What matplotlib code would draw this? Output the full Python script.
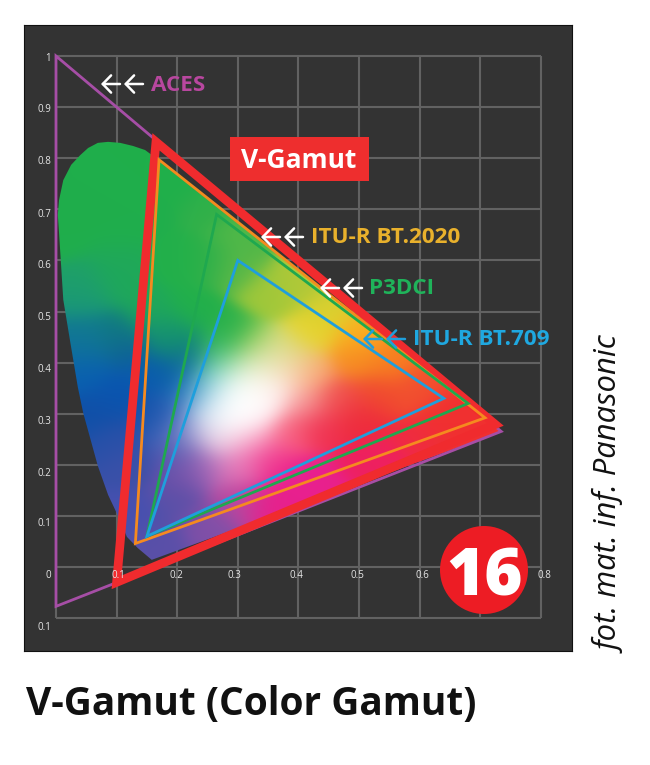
import numpy as np
import matplotlib
matplotlib.use("Agg")
import matplotlib.pyplot as plt
from matplotlib.colors import to_rgb
from matplotlib.patches import Polygon

plt.rcParams['font.family'] = ['Open Sans', 'DejaVu Sans']

# gamut triangles, CIE xy
aces_x = [0.0, 0.7347, 0.0]
aces_y = [1.0, 0.2653, -0.077]
vgamut_x = [0.165, 0.725, 0.100]
vgamut_y = [0.832, 0.279, -0.030]
bt2020_x = [0.170, 0.708, 0.131]
bt2020_y = [0.797, 0.292, 0.046]
p3_x = [0.265, 0.680, 0.150]
p3_y = [0.690, 0.320, 0.060]
bt709_x = [0.300, 0.640, 0.150]
bt709_y = [0.600, 0.330, 0.060]

# horseshoe outline
locus_x = [0.158, 0.135, 0.117, 0.100, 0.086, 0.069, 0.045, 0.036, 0.023, 0.012, 0.005, 0.003,
           0.005, 0.012, 0.025, 0.040, 0.053, 0.069, 0.086, 0.106, 0.127, 0.147, 0.163, 0.735]
locus_y = [0.014, 0.037, 0.059, 0.106, 0.141, 0.198, 0.301, 0.352, 0.444, 0.523, 0.654, 0.689,
           0.718, 0.757, 0.787, 0.806, 0.820, 0.830, 0.832, 0.830, 0.824, 0.816, 0.802, 0.265]

# colour samples inside the horseshoe: (x, y, colour)
green_x = [0.08, 0.05, 0.15, 0.20, 0.22, 0.15, 0.02, 0.10, 0.10, 0.20, 0.25, 0.282, 0.27, 0.25]
green_y = [0.78, 0.70, 0.70, 0.60, 0.50, 0.50, 0.65, 0.65, 0.60, 0.75, 0.70, 0.458, 0.419, 0.60]
green_c = ['#1fae4b', '#1fae4b', '#20ae4c', '#22b04a', '#22b04a', '#1fa85a', '#20ae4c', '#20ae4c',
           '#1fa85a', '#20b04a', '#30b04a', '#28b04a', '#30b860', '#2cb04a']

blue_x = [0.045, 0.10, 0.045, 0.045, 0.10, 0.18, 0.045, 0.12, 0.05, 0.155, 0.10, 0.16, 0.193, 0.216,
          0.216, 0.193, 0.07, 0.10, 0.13, 0.13, 0.17, 0.19, 0.18, 0.20]
blue_y = [0.555, 0.555, 0.522, 0.457, 0.457, 0.457, 0.425, 0.425, 0.38, 0.38, 0.337, 0.30, 0.372, 0.34,
          0.405, 0.438, 0.30, 0.25, 0.20, 0.10, 0.05, 0.30, 0.26, 0.22]
blue_c = ['#1fa068', '#1fa85a', '#1a9878', '#127a90', '#107a80', '#1a9a70', '#0f6fa0', '#0f6098',
          '#0a60b0', '#0a5cb0', '#0a55b0', '#1050a8', '#0a5ca8', '#1060b0', '#107090', '#108a70',
          '#1050a8', '#2a50a8', '#3a50a8', '#4550b0', '#5a50a8', '#3060b8', '#2f5cb4', '#5858b0']

warm_x = [0.298, 0.353, 0.424, 0.497, 0.497, 0.53, 0.464, 0.408, 0.419, 0.381, 0.353, 0.381, 0.325,
          0.30, 0.40, 0.45, 0.55, 0.60, 0.65, 0.72]
warm_y = [0.587, 0.536, 0.458, 0.45, 0.405, 0.34, 0.327, 0.32, 0.38, 0.38, 0.405, 0.419, 0.43,
          0.65, 0.55, 0.50, 0.40, 0.35, 0.30, 0.27]
warm_c = ['#5ab848', '#a0c83a', '#e8d52e', '#fcb020', '#f68a22', '#f04a30', '#f05050', '#f6a0a0',
          '#f8a870', '#fde0d0', '#eee8c0', '#d8d870', '#90cc50', '#50b848', '#b0c838', '#d8d030',
          '#f88020', '#f25030', '#f03030', '#f03030']

pale_x = [0.254, 0.238, 0.299, 0.325, 0.27, 0.353, 0.243, 0.216, 0.27, 0.325, 0.381, 0.436, 0.50,
          0.30, 0.28, 0.33, 0.29, 0.33, 0.26]
pale_y = [0.372, 0.34, 0.327, 0.352, 0.307, 0.34, 0.294, 0.262, 0.248, 0.248, 0.262, 0.274, 0.288,
          0.29, 0.35, 0.30, 0.39, 0.385, 0.33]
pale_c = ['#50c8b0', '#50b0d8', '#ffffff', '#ffffff', '#ffffff', '#fff0f0', '#d8e0f0', '#b8a8d8',
          '#f0d8e8', '#f8a8c8', '#f86080', '#f03050', '#ee2b3c',
          '#ffffff', '#ffffff', '#ffffff', '#c0e8c0', '#f0f0d0', '#f4fafc']

pink_x = [0.243, 0.205, 0.299, 0.353, 0.299, 0.353, 0.408, 0.518, 0.193, 0.45, 0.55, 0.60, 0.65, 0.25]
pink_y = [0.196, 0.176, 0.196, 0.209, 0.131, 0.125, 0.17, 0.196, 0.131, 0.14, 0.19, 0.24, 0.25, 0.08]
pink_c = ['#a868b8', '#7050a8', '#e878b8', '#f0308c', '#b848a0', '#e8208c', '#e82090', '#ee2060',
          '#5a50a8', '#e8208c', '#ee2060', '#f02c40', '#f03030', '#8050a8']

y_ticks = ['1', '0.9', '0.8', '0.7', '0.6', '0.5', '0.4', '0.3', '0.2', '0.1', '0', '0.1']
x_ticks = ['0.1', '0.2', '0.3', '0.4', '0.5', '0.6', '0.8']

W, H = 650, 765
fig = plt.figure(figsize=(W / 100, H / 100), dpi=100)

# panel in figure pixels
L, R, T, B = 24, 572, 25, 651
ax = fig.add_axes([L / W, 1 - B / H, (R - L) / W, (B - T) / H])
ax.set_facecolor('#333333')
ax.set_xticks([])
ax.set_yticks([])
for s in ax.spines.values():
    s.set_color('#111111')
    s.set_linewidth(0.8)

ax.hlines(np.arange(-1, 11) / 10, 0, 0.8, color='#626262', lw=1.5, zorder=1)
ax.vlines(np.arange(0, 9) / 10, -0.1, 1, color='#626262', lw=1.5, zorder=1)

# colour field, blended from the samples
sample_x = np.array(green_x + blue_x + warm_x + pale_x + pink_x)
sample_y = np.array(green_y + blue_y + warm_y + pale_y + pink_y)
rgb = np.array([to_rgb(c) for c in green_c + blue_c + warm_c + pale_c + pink_c])
gx, gy = np.meshgrid(np.linspace(-0.02, 0.76, 400), np.linspace(-0.02, 0.86, 400))
d2 = (gx - sample_x[:, None, None]) ** 2 + (gy - sample_y[:, None, None]) ** 2
w = np.exp(-d2 / (2 * 0.028 ** 2)) + 1e-12
img = (w[..., None] * rgb[:, None, None, :]).sum(axis=0) / w.sum(axis=0)[..., None]
im = ax.imshow(img, origin='lower', extent=(-0.02, 0.76, -0.02, 0.86), aspect='auto',
               interpolation='bilinear', zorder=2)
ax.set_xlim((L - 56) / 606, (R - 56) / 606)
ax.set_ylim((567 - B) / 511, (567 - T) / 511)
im.set_clip_path(Polygon(np.column_stack([locus_x, locus_y]), transform=ax.transData))

tri = [(aces_x, aces_y, '#a64ea6', 2.0, 3),
       (vgamut_x, vgamut_y, '#f02b2e', 6.3, 4),
       (bt2020_x, bt2020_y, '#f58a1f', 2.0, 5),
       (p3_x, p3_y, '#1fa84f', 2.0, 6),
       (bt709_x, bt709_y, '#1f9fdc', 2.0, 7)]
for xs, ys, col, lw, z in tri:
    ax.fill(xs, ys, fill=False, edgecolor=col, lw=lw, joinstyle='miter', zorder=z)

# everything else sits in figure pixels
ov = fig.add_axes([0, 0, 1, 1], facecolor='none')
ov.set_xlim(0, W)
ov.set_ylim(H, 0)
ov.axis('off')

y_pos = [58, 109, 161, 214, 265, 317, 369, 421, 473, 524, 576, 627]
for t, yp in zip(y_ticks, y_pos):
    ov.text(48 if len(t) == 1 else 44, yp, t, color='#e6e6e6', fontsize=7, ha='center', va='center')
x_pos = [118, 176, 234, 296, 357, 422, 544]
for t, xp in zip(x_ticks, x_pos):
    ov.text(xp, 576, t, color='#e6e6e6', fontsize=7, ha='center', va='center')


def arrow(x0, x1, y, col):
    ov.annotate('', xy=(x0, y), xytext=(x1, y),
                arrowprops=dict(arrowstyle='->,head_length=0.6,head_width=0.62', color=col, lw=1.8,
                                shrinkA=0, shrinkB=0))


arrows = [(101, 84, 'white'), (261, 237, 'white'), (320, 288, 'white'), (363, 339, '#1f9fdc')]
for xa, ya, col in arrows:
    arrow(xa, xa + 19, ya, col)
    arrow(xa + 23, xa + 42, ya, col)

ov.text(151, 85, 'ACES', color='#b8479f', fontsize=16.2, fontweight='bold', va='center')
ov.text(311, 237, 'ITU-R BT.2020', color='#e9b12c', fontsize=16.2, fontweight='bold', va='center')
ov.text(369, 288, 'P3DCI', color='#1fb35a', fontsize=16.2, fontweight='bold', va='center')
ov.text(413, 339, 'ITU-R BT.709', color='#1fa8e0', fontsize=16.2, fontweight='bold', va='center')

ov.fill_between([230, 369], 137, 181, color='#ee2e2e', lw=0, zorder=3)
ov.text(299, 160, 'V-Gamut', color='white', fontsize=19, fontweight='bold', ha='center', va='center', zorder=4)

ov.add_patch(plt.Circle((484, 570), 44, color='#ed1c24', lw=0, zorder=3))
ov.text(485, 570, '16', color='white', fontsize=47, fontweight=800, ha='center', va='center_baseline', zorder=4)

ov.text(611, 653, 'fot. mat. inf. Panasonic', color='#111111', fontsize=22.3, style='italic',
        rotation=90, ha='center', va='bottom')
ov.text(26, 705, 'V-Gamut (Color Gamut)', color='#111111', fontsize=28, fontweight='bold', va='center')

fig.savefig('out.png', dpi=100)
